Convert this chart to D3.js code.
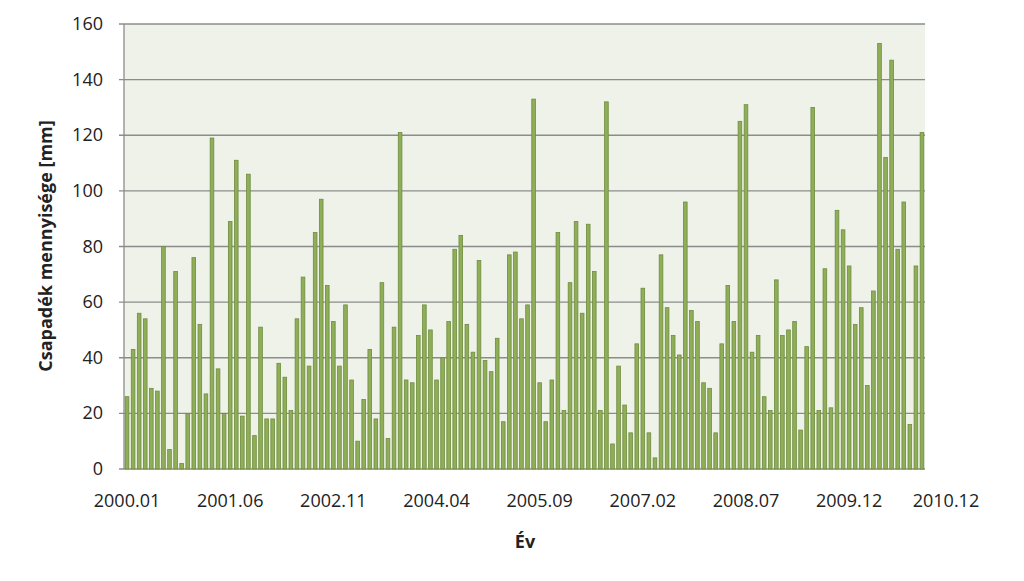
<!DOCTYPE html>
<html><head><meta charset="utf-8">
<script src="https://cdn.jsdelivr.net/npm/d3@7"></script>
<style>body{margin:0;background:#fff;font-family:"Open Sans","Liberation Sans",sans-serif}</style>
</head><body><svg id="c" width="1024" height="581"></svg>
<script>
const precip = [26,43,56,54,29,28,80,7,71,2,20,76,52,27,119,36,20,89,111,19,106,12,51,18,18,38,33,21,54,69,
  37,85,97,66,53,37,59,32,10,25,43,18,67,11,51,121,32,31,48,59,50,32,40,53,79,84,52,42,75,39,
  35,47,17,77,78,54,59,133,31,17,32,85,21,67,89,56,88,71,21,132,9,37,23,13,45,65,13,4,77,58,
  48,41,96,57,53,31,29,13,45,66,53,125,131,42,48,26,21,68,48,50,53,14,44,130,21,72,22,93,86,73,
  52,58,30,64,153,112,147,79,96,16,73,121];
const months = precip.map((_, i) => `${2000 + Math.floor(i / 12)}.${String(i % 12 + 1).padStart(2, '0')}`);
const tickIdx = [0, 17, 34, 51, 68, 85, 102, 119, 131];
const yTicks = [0, 20, 40, 60, 80, 100, 120, 140, 160];

const margin = { top: 24, right: 99, bottom: 112, left: 124 };
const W = 1024, H = 581;
const svg = d3.select('#c');

const x = d3.scaleBand().domain(months).range([margin.left, W - margin.right]).paddingInner(0.4).paddingOuter(0.2);
const y = d3.scaleLinear().domain([0, 160]).range([H - margin.bottom, margin.top]);

svg.append('rect')
  .attr('x', margin.left).attr('y', margin.top)
  .attr('width', W - margin.right - margin.left).attr('height', H - margin.bottom - margin.top)
  .attr('fill', '#eef2e9');

svg.append('g').selectAll('line').data(yTicks).join('line')
  .attr('x1', margin.left - 5).attr('x2', W - margin.right)
  .attr('y1', (d) => y(d)).attr('y2', (d) => y(d))
  .attr('stroke', '#8c8c8c').attr('stroke-width', 1.3);

svg.append('line')
  .attr('x1', margin.left).attr('x2', margin.left)
  .attr('y1', margin.top).attr('y2', y(0))
  .attr('stroke', '#8c8c8c').attr('stroke-width', 1.3);

svg.append('g').selectAll('text').data(yTicks).join('text')
  .attr('x', 103).attr('y', (d) => y(d) + 6)
  .attr('text-anchor', 'end').attr('font-size', 18).attr('fill', '#222')
  .text((d) => d);

svg.append('g').selectAll('rect').data(precip).join('rect')
  .attr('x', (d, i) => x(months[i]))
  .attr('y', (d) => y(d))
  .attr('width', x.bandwidth())
  .attr('height', (d) => y(0) - y(d))
  .attr('fill', '#8fae58').attr('stroke', '#6f8c3e').attr('stroke-width', 0.8);

svg.append('g').selectAll('text').data(tickIdx).join('text')
  .attr('x', (i) => x(months[i]) + x.bandwidth() / 2 + (i === 131 ? 24 : 0))
  .attr('y', 507)
  .attr('text-anchor', 'middle').attr('font-size', 18).attr('fill', '#222')
  .text((i) => months[i]);

svg.append('text').attr('x', 525).attr('y', 548).attr('text-anchor', 'middle')
  .attr('font-size', 18).attr('font-weight', 'bold').attr('fill', '#222').text('Év');

svg.append('text').attr('transform', 'translate(52,246) rotate(-90)').attr('text-anchor', 'middle')
  .attr('font-size', 18).attr('font-weight', 'bold').attr('fill', '#222').text('Csapadék mennyisége [mm]');
</script></body></html>
